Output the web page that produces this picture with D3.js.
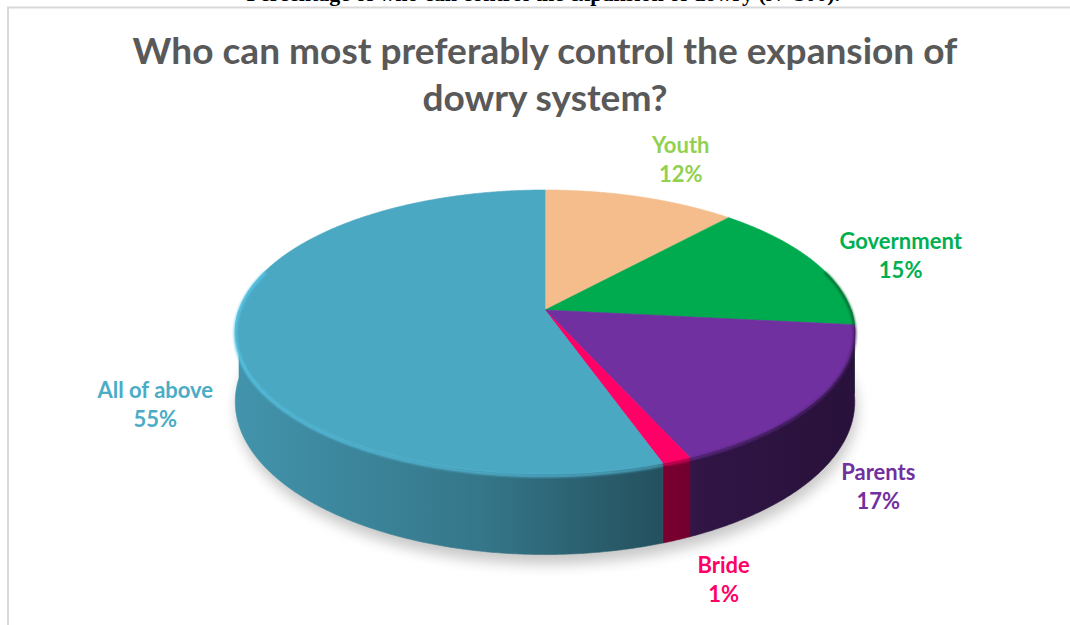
<!DOCTYPE html>
<html>
<head>
<meta charset="utf-8">
<script src="https://cdn.jsdelivr.net/npm/d3@7"></script>
<style>
  body { margin: 0; background: #fff; }
  svg { display: block; }
</style>
</head>
<body>
<div id="viz"></div>
<script>
const categories = ['Youth', 'Government', 'Parents', 'Bride', 'All of above'];
const counts = [35, 45, 50, 4, 166];
const sliceColours = ['#F5BD8C', '#00AB4F', '#7030A0', '#FF0066', '#4BA8C3'];
const labelColours = ['#92D050', '#00B050', '#7030A0', '#FF0066', '#4BACC6'];
const titleLines = ['Who can most preferably control the expansion of', 'dowry system?'];
const caption = 'Percentage of who can control the expansion of dowry (N=300).';

const width = 1070;
const height = 625;

// pie geometry (tilted disc, light perspective)
const cx = 545, cy = 310, R = 306, tilt = 0.453, persp = 0.155, depth = 68;
// label nudges away from the slice edge, like Excel "best fit"
const labelNudge = [[40, -37], [85, -7], [61, 13], [47, 40], [-80, 1]];

const svg = d3.select('#viz')
  .append('svg')
  .attr('width', width)
  .attr('height', height);

const defs = svg.append('defs');

// caption of the page, cut off at the top
svg.append('text')
  .attr('x', 840)
  .attr('y', 1)
  .attr('text-anchor', 'end')
  .style('font-family', '"Liberation Serif", serif')
  .style('font-weight', 'bold')
  .style('font-size', '22px')
  .text(caption);

// chart frame
svg.append('path')
  .attr('d', `M8,${height} V7.5 H${width}`)
  .attr('fill', 'none')
  .attr('stroke', '#d9d9d9')
  .attr('stroke-width', 2);

// title
const title = svg.append('g')
  .style('font-family', 'Lato, "Open Sans", sans-serif')
  .style('font-weight', 'bold')
  .style('fill', '#595959');

titleLines.forEach((line, i) => {
  title.append('text')
    .attr('x', 545)
    .attr('y', 64 + i * 47)
    .attr('text-anchor', 'middle')
    .style('font-size', '36px')
    .text(line);
});
// fit the long line to the original width
const firstLine = title.select('text').node();
const fit = 825 / firstLine.getComputedTextLength();
title.selectAll('text').style('font-size', `${36 * fit}px`);

const toScreen = (a, r = 1, drop = 0) => {
  const X = r * Math.sin(a);
  const Z = r * Math.cos(a);
  const s = 1 / (1 + persp * Z);
  return [cx + R * X * s, cy - R * tilt * Z * s + drop * s];
};

const arcPoints = (a0, a1, drop = 0, r = 1) => {
  const n = Math.max(2, Math.ceil(Math.abs(a1 - a0) / 0.008));
  const step = d3.scaleLinear().domain([0, n]).range([a0, a1]);
  return d3.range(n + 1).map(i => toScreen(step(i), r, drop));
};

const line = d3.line();

const pie = d3.pie()
  .value(d => d.count)
  .sort(null);

const total = d3.sum(counts);
const dataset = categories.map((c, i) => ({
  category: c, count: counts[i], colour: sliceColours[i], labelColour: labelColours[i],
}));
const slices = pie(dataset);

const shade = (c, f) => {
  const rgb = d3.rgb(c);
  return d3.rgb(rgb.r * f, rgb.g * f, rgb.b * f).formatHex();
};

// soft shadow under the disc
const blur = defs.append('filter').attr('id', 'shadow')
  .attr('x', '-20%').attr('y', '-20%').attr('width', '140%').attr('height', '140%');
blur.append('feGaussianBlur').attr('stdDeviation', 7);
const soft = defs.append('filter').attr('id', 'soft');
soft.append('feGaussianBlur').attr('stdDeviation', 0.8);

svg.append('path')
  .attr('d', line(arcPoints(0, 2 * Math.PI, depth + 8, 1.0)) + 'Z')
  .attr('fill', '#000')
  .attr('opacity', 0.22)
  .attr('transform', 'translate(2,0)')
  .attr('filter', 'url(#shadow)');

// side and rim gradients
slices.forEach((d) => {
  const g = defs.append('linearGradient')
    .attr('id', `wall-${d.index}`)
    .attr('gradientUnits', 'userSpaceOnUse')
    .attr('x1', cx - R * 1.02).attr('x2', cx + R * 1.02)
    .attr('y1', 0).attr('y2', 0);
  g.append('stop').attr('offset', 0).attr('stop-color', shade(d.data.colour, 0.88));
  g.append('stop').attr('offset', 0.4).attr('stop-color', shade(d.data.colour, 0.7));
  g.append('stop').attr('offset', 0.75).attr('stop-color', shade(d.data.colour, 0.43));
  g.append('stop').attr('offset', 1).attr('stop-color', shade(d.data.colour, 0.36));

  const rim = defs.append('linearGradient')
    .attr('id', `rim-${d.index}`)
    .attr('gradientUnits', 'userSpaceOnUse')
    .attr('x1', cx - R * 1.02).attr('x2', cx + R * 1.02)
    .attr('y1', 0).attr('y2', 0);
  rim.append('stop').attr('offset', 0).attr('stop-color', d3.color(d.data.colour).brighter(0.5).formatHex());
  rim.append('stop').attr('offset', 0.6).attr('stop-color', d3.color(d.data.colour).brighter(0.2).formatHex());
  rim.append('stop').attr('offset', 1).attr('stop-color', shade(d.data.colour, 0.6));
});

// front walls
const front = [Math.PI / 2, 3 * Math.PI / 2];
const walls = svg.append('g');
slices.forEach((d) => {
  const a0 = Math.max(d.startAngle, front[0]);
  const a1 = Math.min(d.endAngle, front[1]);
  if (a1 <= a0) return;
  const top = arcPoints(a0, a1, 0);
  const bottom = arcPoints(a1, a0, depth);
  walls.append('path')
    .attr('d', line(top.concat(bottom)) + 'Z')
    .attr('fill', `url(#wall-${d.index})`)
    .attr('stroke', `url(#wall-${d.index})`)
    .attr('stroke-width', 0.6);
});

// top faces
const tops = svg.append('g');
slices.forEach((d) => {
  const pts = [[cx, cy]].concat(arcPoints(d.startAngle, d.endAngle, 0));
  tops.append('path')
    .attr('d', line(pts) + 'Z')
    .attr('fill', d.data.colour)
    .attr('stroke', d.data.colour)
    .attr('stroke-width', 0.6);
});

// bevel on the front rim
slices.forEach((d) => {
  const a0 = Math.max(d.startAngle, front[0] - 0.3);
  const a1 = Math.min(d.endAngle, front[1] + 0.3);
  if (a1 <= a0) return;
  tops.append('path')
    .attr('d', line(arcPoints(a0, a1, 1.5)))
    .attr('fill', 'none')
    .attr('stroke', `url(#rim-${d.index})`)
    .attr('stroke-width', 3)
    .attr('opacity', 0.85)
    .attr('filter', 'url(#soft)');
});

// data labels
const labels = svg.append('g')
  .style('font-family', 'Lato, "Open Sans", sans-serif')
  .style('font-weight', 'bold')
  .style('font-size', '22px')
  .attr('text-anchor', 'middle');

const pct = d3.format('.0%');
slices.forEach((d) => {
  const mid = (d.startAngle + d.endAngle) / 2;
  const inFront = mid > front[0] && mid < front[1];
  const [ex, ey] = toScreen(mid, 1, inFront ? depth : 0);
  const [nx, ny] = labelNudge[d.index];
  const t = labels.append('text')
    .attr('transform', `translate(${ex + nx}, ${ey + ny})`)
    .style('fill', d.data.labelColour);
  t.append('tspan').attr('x', 0).attr('y', -7).text(d.data.category);
  t.append('tspan').attr('x', 0).attr('y', 22).text(pct(d.data.count / total));
});
</script>
</body>
</html>
